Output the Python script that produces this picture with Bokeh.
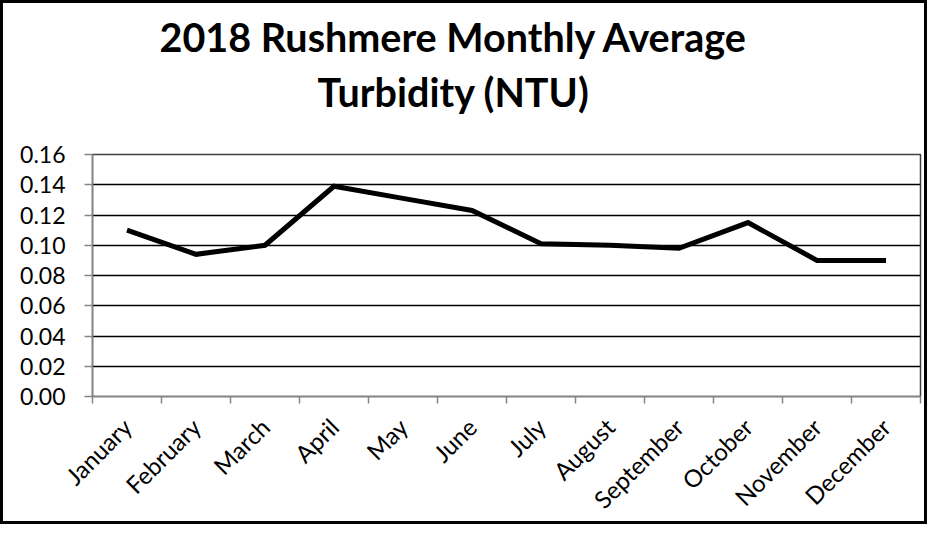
from bokeh.plotting import figure
from bokeh.models import FixedTicker, Range1d, Title, PrintfTickFormatter, CustomJSTickFormatter
from bokeh.embed import file_html
from bokeh.resources import INLINE
from math import pi

months = ["January", "February", "March", "April", "May", "June", "July",
          "August", "September", "October", "November", "December"]
turbidity = [0.110, 0.094, 0.100, 0.139, 0.131, 0.123, 0.101, 0.100, 0.098, 0.115, 0.090, 0.090]
y_ticks = [0.00, 0.02, 0.04, 0.06, 0.08, 0.10, 0.12, 0.14, 0.16]
title_lines = ["2018 Rushmere Monthly Average", "Turbidity (NTU)"]

x = [i + 0.5 for i in range(len(months))]
bounds = [i for i in range(len(months) + 1)]

p = figure(width=927, height=524, output_backend="svg", toolbar_location=None,
           title_location=None,
           x_range=Range1d(0, len(months)), y_range=Range1d(y_ticks[0], y_ticks[-1]),
           min_border_left=89, min_border_right=10, min_border_top=151, min_border_bottom=128)
p.styles = {"border": "3px solid black"}
p.background_fill_color = "white"
p.border_fill_color = "white"
p.outline_line_color = "#404040"
p.outline_line_width = 1.5

p.line(x, turbidity, line_width=5, color="black", line_join="miter")

# grid
p.xgrid.grid_line_color = None
p.ygrid.ticker = FixedTicker(ticks=y_ticks)
p.ygrid.grid_line_color = "black"
p.ygrid.grid_line_width = 1.5

axis_gray = "#868686"
# y axis
p.yaxis.ticker = FixedTicker(ticks=y_ticks)
p.yaxis.formatter = PrintfTickFormatter(format="%.2f")
p.yaxis.axis_line_color = axis_gray
p.yaxis.axis_line_width = 1.5
p.yaxis.major_tick_line_color = axis_gray
p.yaxis.major_tick_line_width = 1.5
p.yaxis.major_tick_out = 8
p.yaxis.major_tick_in = 0
p.yaxis.minor_tick_line_color = None
p.yaxis.major_label_standoff = 19
p.yaxis.major_label_text_font = "Lato"
p.yaxis.major_label_text_font_size = "23px"
p.yaxis.major_label_text_color = "black"

# x axis
p.xaxis.ticker = FixedTicker(ticks=x, minor_ticks=bounds)
p.xaxis.formatter = CustomJSTickFormatter(args=dict(months=months),
                                          code="return months[Math.round(tick - 0.5)];")
p.xaxis.axis_line_color = axis_gray
p.xaxis.axis_line_width = 1.5
p.xaxis.major_tick_out = 0
p.xaxis.major_tick_in = 0
p.xaxis.minor_tick_out = 7
p.xaxis.minor_tick_in = 0
p.xaxis.minor_tick_line_color = axis_gray
p.xaxis.minor_tick_line_width = 1.5
p.xaxis.major_label_orientation = pi / 4
p.xaxis.major_label_standoff = 19
p.xaxis.major_label_text_font = "Lato"
p.xaxis.major_label_text_font_size = "24px"
p.xaxis.major_label_text_color = "black"

# two-line title (second line added first: it sits nearest the plot)
for text, off, stand in [(title_lines[1], 225, 79), (title_lines[0], 67, -67)]:
    p.add_layout(Title(text=text, align="left", offset=off, standoff=stand,
                       text_font="Lato", text_font_style="bold",
                       text_font_size="39.5px", text_color="black"), "above")

open("out.html", "w").write(file_html(p, INLINE))
